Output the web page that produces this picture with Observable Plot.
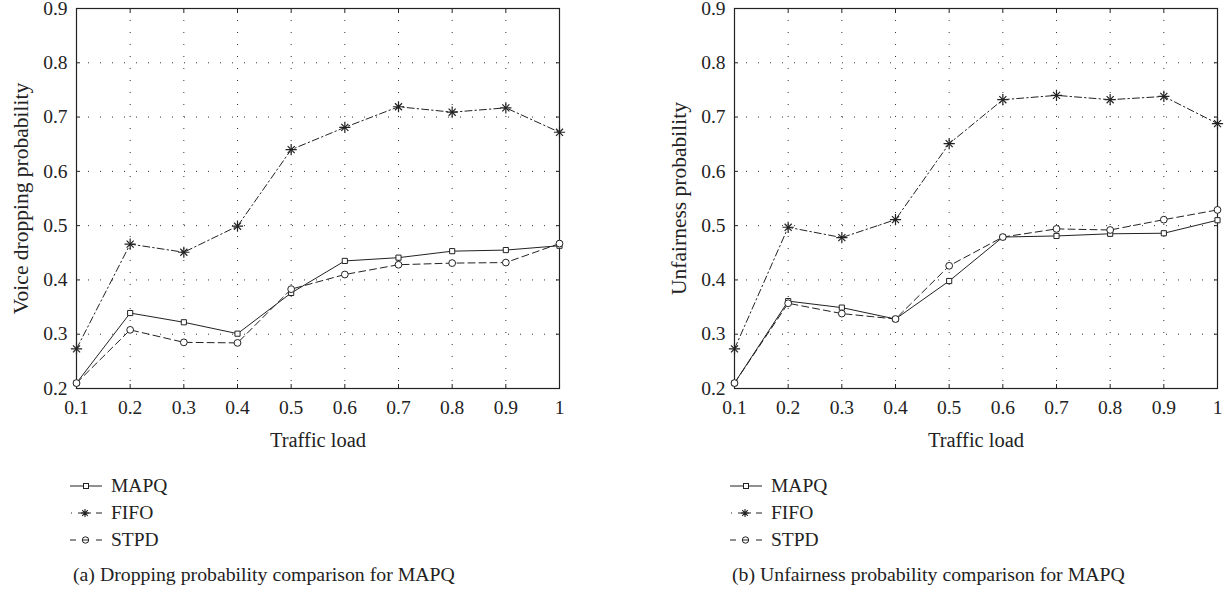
<!DOCTYPE html>
<html><head><meta charset="utf-8">
<script src="https://cdn.jsdelivr.net/npm/d3@7"></script>
<script src="https://cdn.jsdelivr.net/npm/@observablehq/plot@0.6"></script>
<style>
body{margin:0;background:#fff;font-family:"Liberation Serif",serif;color:#222;width:1227px;height:590px;overflow:hidden;position:relative;}
.panel{position:absolute;top:0;}
.panel svg text{font-family:"Liberation Serif",serif;}
.legend{position:absolute;top:472px;font-size:19.5px;}
.legend .row{height:27px;display:flex;align-items:center;}
.legend svg{margin-right:9px;}
.cap{position:absolute;top:563px;font-size:19.8px;white-space:nowrap;}
</style></head><body>
<div id="a" class="panel" style="left:0"></div>
<div id="b" class="panel" style="left:658px"></div>
<div id="la" class="legend" style="left:70px"></div>
<div id="lb" class="legend" style="left:730px"></div>
<div class="cap" style="left:73px">(a) Dropping probability comparison for MAPQ</div>
<div class="cap" style="left:732px">(b) Unfairness probability comparison for MAPQ</div>
<script>
const loads = [0.1, 0.2, 0.3, 0.4, 0.5, 0.6, 0.7, 0.8, 0.9, 1.0];
const xTickLabels = ["0.1","0.2","0.3","0.4","0.5","0.6","0.7","0.8","0.9","1"];
const yTicks = [0.2, 0.3, 0.4, 0.5, 0.6, 0.7, 0.8, 0.9];
const seriesNames = ["MAPQ", "FIFO", "STPD"];

// (a) Voice dropping probability
const dropMAPQ = [0.21, 0.339, 0.322, 0.301, 0.376, 0.435, 0.441, 0.453, 0.455, 0.463];
const dropFIFO = [0.273, 0.466, 0.451, 0.499, 0.640, 0.681, 0.719, 0.709, 0.717, 0.672];
const dropSTPD = [0.21, 0.308, 0.285, 0.284, 0.383, 0.410, 0.428, 0.431, 0.432, 0.467];

// (b) Unfairness probability
const unfMAPQ = [0.21, 0.361, 0.349, 0.328, 0.398, 0.479, 0.481, 0.485, 0.486, 0.510];
const unfFIFO = [0.273, 0.497, 0.478, 0.511, 0.651, 0.732, 0.740, 0.732, 0.738, 0.688];
const unfSTPD = [0.21, 0.357, 0.338, 0.328, 0.426, 0.479, 0.494, 0.492, 0.511, 0.529];

const INK = "#222";
const FONT = "Liberation Serif";
const styles = {
  MAPQ: {dash: null, symbol: "square"},
  FIFO: {dash: "7,3,1.5,3", symbol: "star8"},
  STPD: {dash: "7,4", symbol: "circle"}
};

function toRows(name, vals) { return loads.map((x, i) => ({x, y: vals[i], s: name})); }

function markerMarks(rows, sym) {
  if (sym === "square") return [Plot.dot(rows, {x: "x", y: "y", symbol: "square", r: 2.9, stroke: INK, fill: "white", strokeWidth: 1})];
  if (sym === "circle") return [Plot.dot(rows, {x: "x", y: "y", symbol: "circle", r: 3.4, stroke: INK, fill: "white", strokeWidth: 1})];
  return [
    Plot.dot(rows, {x: "x", y: "y", symbol: "plus", r: 3.7, stroke: INK, strokeWidth: 1.2}),
    Plot.dot(rows, {x: "x", y: "y", symbol: "times", r: 3.3, stroke: INK, strokeWidth: 1.2})
  ];
}

function chart(width, marginRight, ylabel, sets) {
  const marks = [
    Plot.ruleY(yTicks, {y: d => d, stroke: "#333", strokeWidth: 1, strokeDasharray: "1,11"}),
    Plot.ruleX(loads, {x: d => d, stroke: "#333", strokeWidth: 1, strokeDasharray: "1,11"}),
    Plot.axisX({anchor: "bottom", ticks: loads, tickSize: 0, tickPadding: 12, tickFormat: (d, i) => xTickLabels[i],
      fontSize: 19.5, fontFamily: FONT, label: null}),
    Plot.axisX({anchor: "bottom", ticks: [], label: "Traffic load", labelAnchor: "center", labelArrow: "none",
      labelOffset: 58, fontSize: 20.5, fontFamily: FONT}),
    Plot.axisY({anchor: "left", ticks: yTicks, tickSize: 0, tickPadding: 9, tickFormat: d => d.toFixed(1),
      fontSize: 19.5, fontFamily: FONT, label: null}),
    Plot.axisY({anchor: "left", ticks: [], label: ylabel, labelAnchor: "center", labelArrow: "none",
      labelOffset: 64, fontSize: 21.5, fontFamily: FONT}),
    Plot.axisX({anchor: "bottom", ticks: loads, tickSize: -4, tickFormat: () => "", label: null}),
    Plot.axisX({anchor: "top", ticks: loads, tickSize: -4, tickFormat: () => "", label: null}),
    Plot.axisY({anchor: "left", ticks: yTicks, tickSize: -4, tickFormat: () => "", label: null}),
    Plot.axisY({anchor: "right", ticks: yTicks, tickSize: -4, tickFormat: () => "", label: null}),
    Plot.frame({stroke: INK, strokeWidth: 1.2})
  ];
  sets.forEach(([name, vals]) => {
    const rows = toRows(name, vals);
    marks.push(Plot.line(rows, {x: "x", y: "y", stroke: INK, strokeWidth: 1, strokeDasharray: styles[name].dash}));
  });
  sets.forEach(([name, vals]) => {
    marks.push(...markerMarks(toRows(name, vals), styles[name].symbol));
  });
  return Plot.plot({
    width, height: 460,
    marginLeft: 76, marginRight, marginTop: 8, marginBottom: 72,
    style: {fontFamily: "'Liberation Serif', serif", fontSize: "20px", color: INK, background: "white", overflow: "visible"},
    x: {domain: [0.1, 1.0]},
    y: {domain: [0.2, 0.9]},
    marks
  });
}

document.getElementById("a").append(chart(613, 54, "Voice dropping probability", [["MAPQ", dropMAPQ], ["FIFO", dropFIFO], ["STPD", dropSTPD]]));
document.getElementById("b").append(chart(569, 10, "Unfairness probability", [["MAPQ", unfMAPQ], ["FIFO", unfFIFO], ["STPD", unfSTPD]]));

function legend(el) {
  seriesNames.forEach(name => {
    const row = document.createElement("div");
    row.className = "row";
    let body;
    if (name === "MAPQ") {
      body = `<line x1="0" x2="32" y1="6" y2="6" stroke="${INK}"/><rect x="13.5" y="3.5" width="5" height="5" fill="white" stroke="${INK}"/>`;
    } else if (name === "FIFO") {
      body = `<line x1="1" x2="2" y1="6" y2="6" stroke="${INK}"/><line x1="8" x2="21" y1="6" y2="6" stroke="${INK}"/><line x1="26" x2="32" y1="6" y2="6" stroke="${INK}"/>` +
        `<path d="M15,2V10M11,6H19M12.2,3.2L17.8,8.8M17.8,3.2L12.2,8.8" stroke="${INK}" stroke-width="1.1"/>`;
    } else {
      body = `<line x1="0" x2="6" y1="6" y2="6" stroke="${INK}"/><line x1="12" x2="19" y1="6" y2="6" stroke="${INK}"/><line x1="26" x2="32" y1="6" y2="6" stroke="${INK}"/>` +
        `<circle cx="15.5" cy="6" r="3.2" fill="white" stroke="${INK}"/><line x1="12.3" x2="18.7" y1="6" y2="6" stroke="${INK}"/>`;
    }
    row.innerHTML = `<svg width="32" height="12">${body}</svg><span>${name}</span>`;
    el.append(row);
  });
}
legend(document.getElementById("la"));
legend(document.getElementById("lb"));
</script>
</body></html>
